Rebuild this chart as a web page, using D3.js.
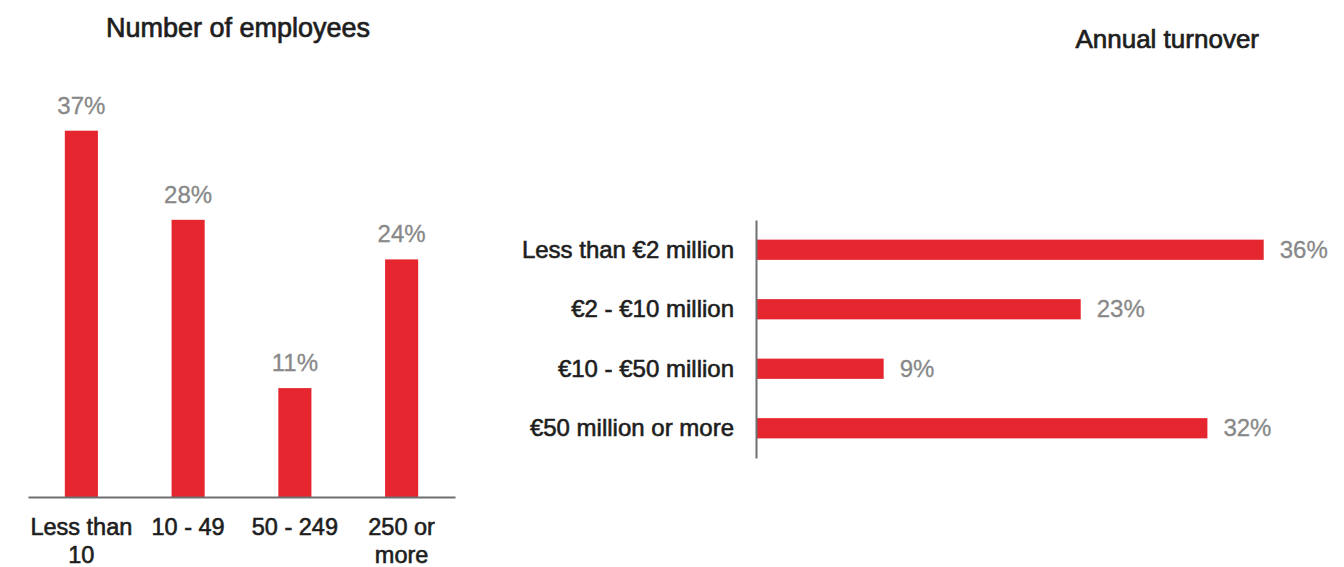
<!DOCTYPE html>
<html>
<head>
<meta charset="utf-8">
<script src="https://cdn.jsdelivr.net/npm/d3@7"></script>
<style>
  html, body { margin: 0; padding: 0; background: #ffffff; }
  svg { display: block; font-family: "Liberation Sans", Arial, Helvetica, sans-serif; }
</style>
</head>
<body>
<svg id="chart" width="1344" height="567"></svg>
<script>
// ---- data ----
const employeeCategories = [["Less than", "10"], ["10 - 49"], ["50 - 249"], ["250 or", "more"]];
const employeeValues = [37, 28, 11, 24];
const turnoverCategories = ["Less than €2 million", "€2 - €10 million", "€10 - €50 million", "€50 million or more"];
const turnoverValues = [36, 23, 9, 32];
const titles = ["Number of employees", "Annual turnover"];

const RED = "#e6262f";
const GREY_TXT = "#888888";
const DARK_TXT = "#1e1e1e";
const AXIS = "#6f6f6f";

const svg = d3.select("#chart");

// ---------- Left: vertical bars ----------
const keys = employeeCategories.map(d => d.join(" "));
const xL = d3.scaleBand().domain(keys).range([28, 455]).paddingInner(0.69).paddingOuter(0.345);
const yL = d3.scaleLinear().domain([0, 40]).range([497, 101]);

svg.append("text")
  .attr("x", 238).attr("y", 37)
  .attr("text-anchor", "middle")
  .attr("font-size", 27).attr("fill", DARK_TXT)
  .attr("stroke", DARK_TXT).attr("stroke-width", 0.7)
  .text(titles[0]);

const left = svg.append("g");
left.selectAll("rect").data(employeeValues).join("rect")
  .attr("x", (d, i) => xL(keys[i]))
  .attr("y", d => yL(d))
  .attr("width", xL.bandwidth())
  .attr("height", d => yL(0) - yL(d))
  .attr("fill", RED);

left.selectAll("text.val").data(employeeValues).join("text")
  .attr("class", "val")
  .attr("x", (d, i) => xL(keys[i]) + xL.bandwidth() / 2)
  .attr("y", d => yL(d) - 17)
  .attr("text-anchor", "middle")
  .attr("font-size", 24).attr("fill", GREY_TXT)
  .attr("stroke", GREY_TXT).attr("stroke-width", 0.3)
  .text(d => d + "%");

const axB = svg.append("g").attr("transform", `translate(0,${yL(0)})`)
  .call(d3.axisBottom(xL).tickSize(0).tickSizeOuter(0).tickFormat(""));
axB.select(".domain").attr("stroke", AXIS).attr("stroke-width", 2);

const labs = svg.append("g");
employeeCategories.forEach((lines, i) => {
  const t = labs.append("text")
    .attr("x", xL(keys[i]) + xL.bandwidth() / 2)
    .attr("y", 535)
    .attr("text-anchor", "middle")
    .attr("font-size", 23.5).attr("fill", DARK_TXT)
    .attr("stroke", DARK_TXT).attr("stroke-width", 0.6);
  lines.forEach((ln, j) => {
    t.append("tspan").attr("x", xL(keys[i]) + xL.bandwidth() / 2).attr("dy", j === 0 ? 0 : 28).text(ln);
  });
});

// ---------- Right: horizontal bars ----------
const yR = d3.scaleBand().domain(turnoverCategories).range([220, 458]).paddingInner(0.66).paddingOuter(0.33);
const xR = d3.scaleLinear().domain([0, 40]).range([757, 1320]);

svg.append("text")
  .attr("x", 1259).attr("y", 48)
  .attr("text-anchor", "end")
  .attr("font-size", 26).attr("fill", DARK_TXT)
  .attr("stroke", DARK_TXT).attr("stroke-width", 0.7)
  .text(titles[1]);

const right = svg.append("g");
right.selectAll("rect").data(turnoverValues).join("rect")
  .attr("x", xR(0))
  .attr("y", (d, i) => yR(turnoverCategories[i]))
  .attr("width", d => xR(d) - xR(0))
  .attr("height", yR.bandwidth())
  .attr("fill", RED);

right.selectAll("text.val").data(turnoverValues).join("text")
  .attr("class", "val")
  .attr("x", d => xR(d) + 16)
  .attr("y", (d, i) => yR(turnoverCategories[i]) + yR.bandwidth() / 2 + 8)
  .attr("font-size", 24).attr("fill", GREY_TXT)
  .attr("stroke", GREY_TXT).attr("stroke-width", 0.3)
  .text(d => d + "%");

const axL = svg.append("g").attr("transform", `translate(${xR(0) - 1},0)`)
  .call(d3.axisLeft(yR).tickSize(0).tickSizeOuter(0).tickPadding(22));
axL.select(".domain").attr("stroke", AXIS).attr("stroke-width", 2);
axL.selectAll(".tick text")
  .attr("font-size", 24).attr("fill", DARK_TXT)
  .attr("stroke", DARK_TXT).attr("stroke-width", 0.6)
  .attr("font-family", "Liberation Sans, Arial, sans-serif")
  .attr("dy", null).attr("y", 8);
</script>
</body>
</html>
